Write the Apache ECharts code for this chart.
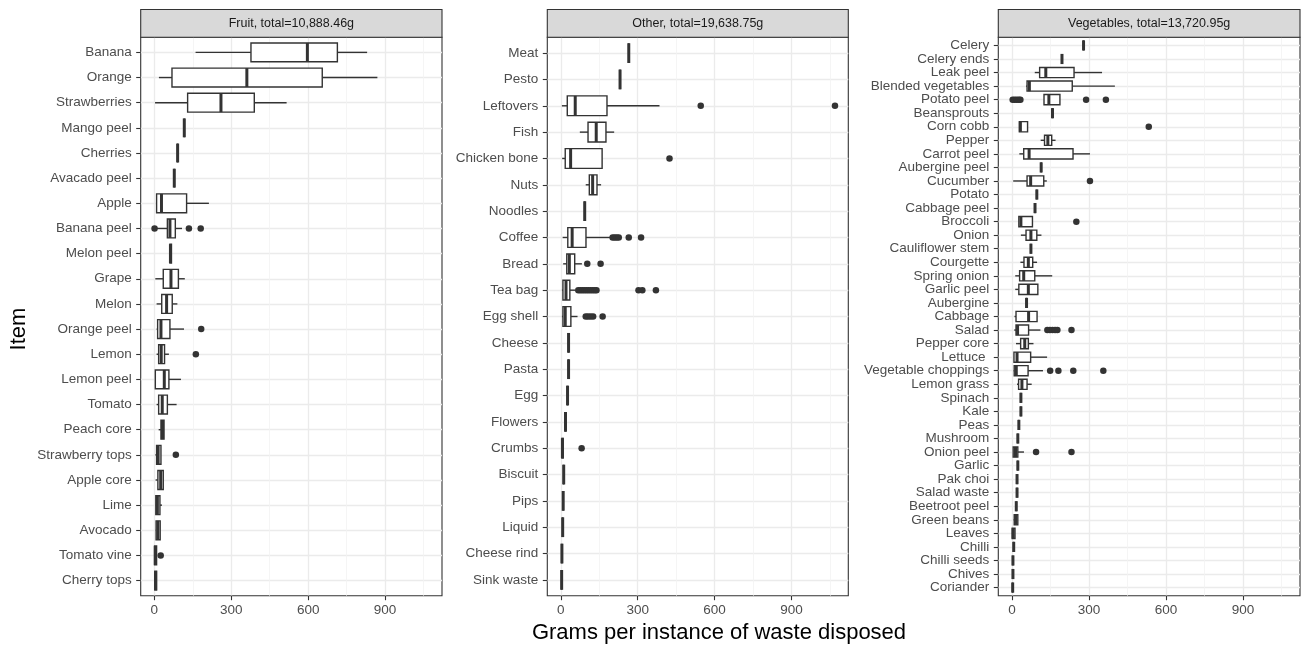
<!DOCTYPE html>
<html>
<head>
<meta charset="utf-8">
<script src="https://cdn.jsdelivr.net/npm/echarts@6/dist/echarts.min.js"></script>
<style>
  html, body { margin: 0; padding: 0; background: #ffffff; }
  #chart { width: 1302px; height: 648px; }
</style>
</head>
<body>
<div id="chart"></div>
<script>
// ---- data: grams per disposal, boxes are [low whisker, Q1, median, Q3, high whisker] ----
const panelTitles = ['Fruit, total=10,888.46g', 'Other, total=19,638.75g', 'Vegetables, total=13,720.95g'];

const fruitItems = ['Banana', 'Orange', 'Strawberries', 'Mango peel', 'Cherries', 'Avacado peel', 'Apple',
  'Banana peel', 'Melon peel', 'Grape', 'Melon', 'Orange peel', 'Lemon', 'Lemon peel', 'Tomato',
  'Peach core', 'Strawberry tops', 'Apple core', 'Lime', 'Avocado', 'Tomato vine', 'Cherry tops'];
const fruitBoxes = [
  [161, 377, 597, 714, 830], [18, 69, 361, 655, 870], [3, 130, 260, 390, 516],
  [117, 117, 117, 117, 117], [91, 91, 91, 91, 91], [78, 78, 78, 78, 78],
  [9, 9, 28, 126, 213], [8, 51, 61, 82, 108], [61, 61, 63, 67, 67],
  [4, 35, 65, 94, 119], [9, 29, 48, 70, 90], [9, 13, 26, 61, 116],
  [9, 17, 27, 40, 57], [4, 4, 39, 57, 104], [9, 17, 31, 51, 87],
  [17, 26, 32, 38, 38], [4, 9, 15, 26, 26], [5, 14, 25, 35, 35],
  [5, 6, 12, 22, 30], [6, 7, 14, 23, 23], [0, 1, 4, 9, 9], [1, 2, 5, 9, 9]
];
const fruitOutliers = [
  ['Banana peel', 1], ['Banana peel', 135], ['Banana peel', 181],
  ['Orange peel', 183], ['Lemon', 162], ['Strawberry tops', 84], ['Tomato vine', 25]
];

const otherItems = ['Meat', 'Pesto', 'Leftovers', 'Fish', 'Chicken bone', 'Nuts', 'Noodles', 'Coffee',
  'Bread', 'Tea bag', 'Egg shell', 'Cheese', 'Pasta', 'Egg', 'Flowers', 'Crumbs', 'Biscuit', 'Pips',
  'Liquid', 'Cheese rind', 'Sink waste'];
const otherBoxes = [
  [265, 265, 265, 265, 265], [231, 231, 231, 231, 231], [4, 25, 56, 180, 385],
  [74, 106, 138, 176, 208], [5, 17, 38, 161, 161], [97, 111, 124, 141, 157],
  [93, 93, 93, 93, 93], [7, 27, 44, 98, 196], [9, 23, 33, 54, 82],
  [4, 8, 20, 35, 56], [4, 8, 17, 39, 65], [30, 30, 30, 30, 30],
  [30, 30, 30, 30, 30], [26, 26, 26, 26, 26], [18, 18, 18, 18, 18],
  [3, 4, 6, 9, 9], [11, 11, 11, 11, 11], [9, 9, 9, 9, 9],
  [7, 7, 7, 7, 7], [4, 4, 4, 4, 4], [3, 3, 3, 3, 3]
];
const otherOutliers = [
  ['Leftovers', 546], ['Leftovers', 1070], ['Chicken bone', 424],
  ['Coffee', 202], ['Coffee', 210], ['Coffee', 218], ['Coffee', 226], ['Coffee', 265], ['Coffee', 313],
  ['Bread', 103], ['Bread', 155],
  ['Tea bag', 68], ['Tea bag', 76], ['Tea bag', 84], ['Tea bag', 92], ['Tea bag', 100], ['Tea bag', 108],
  ['Tea bag', 116], ['Tea bag', 124], ['Tea bag', 132], ['Tea bag', 139], ['Tea bag', 303], ['Tea bag', 318],
  ['Tea bag', 371],
  ['Egg shell', 97], ['Egg shell', 106], ['Egg shell', 116], ['Egg shell', 126], ['Egg shell', 163],
  ['Crumbs', 81]
];

const vegItems = ['Celery', 'Celery ends', 'Leak peel', 'Blended vegetables', 'Potato peel', 'Beansprouts',
  'Corn cobb', 'Pepper', 'Carrot peel', 'Aubergine peel', 'Cucumber', 'Potato', 'Cabbage peel', 'Broccoli',
  'Onion', 'Cauliflower stem', 'Courgette', 'Spring onion', 'Garlic peel', 'Aubergine', 'Cabbage', 'Salad',
  'Pepper core', 'Lettuce ', 'Vegetable choppings', 'Lemon grass', 'Spinach', 'Kale', 'Peas', 'Mushroom',
  'Onion peel', 'Garlic', 'Pak choi', 'Salad waste', 'Beetroot peel', 'Green beans', 'Leaves', 'Chilli',
  'Chilli seeds', 'Chives', 'Coriander'];
const vegBoxes = [
  [279, 279, 279, 279, 279], [195, 195, 195, 195, 195], [89, 108, 132, 242, 351],
  [55, 59, 68, 235, 401], [125, 125, 144, 187, 187], [158, 158, 158, 158, 158],
  [29, 29, 33, 61, 61], [112, 127, 140, 155, 170], [29, 46, 67, 238, 304],
  [114, 114, 114, 114, 114], [5, 59, 73, 124, 136], [97, 97, 97, 97, 97],
  [90, 90, 90, 90, 90], [27, 27, 35, 80, 80], [35, 55, 74, 97, 115],
  [74, 74, 74, 74, 74], [33, 47, 64, 81, 98], [13, 30, 46, 89, 157],
  [13, 27, 64, 101, 101], [57, 57, 57, 57, 57], [10, 16, 65, 98, 98],
  [9, 16, 22, 65, 111], [16, 34, 50, 64, 84], [8, 8, 20, 73, 137],
  [7, 9, 17, 63, 121], [20, 26, 39, 59, 77], [35, 35, 35, 35, 35],
  [35, 35, 35, 35, 35], [27, 27, 27, 27, 27], [23, 23, 23, 23, 23],
  [5, 5, 14, 23, 47], [23, 23, 23, 23, 23], [20, 20, 20, 20, 20],
  [20, 20, 20, 20, 20], [17, 17, 17, 17, 17], [7, 9, 15, 23, 23],
  [0, 1, 5, 12, 12], [7, 7, 7, 7, 7], [4, 4, 4, 4, 4], [4, 4, 4, 4, 4], [3, 3, 3, 3, 3]
];
const vegOutliers = [
  ['Potato peel', 3], ['Potato peel', 11], ['Potato peel', 19], ['Potato peel', 27], ['Potato peel', 33],
  ['Potato peel', 289], ['Potato peel', 366], ['Corn cobb', 533], ['Cucumber', 304], ['Broccoli', 251],
  ['Salad', 138], ['Salad', 148], ['Salad', 158], ['Salad', 168], ['Salad', 177], ['Salad', 232],
  ['Vegetable choppings', 149], ['Vegetable choppings', 181], ['Vegetable choppings', 239],
  ['Vegetable choppings', 356], ['Onion peel', 94], ['Onion peel', 232]
];

const xMajorTicks = [0, 300, 600, 900];
const xMinorTicks = [150, 450, 750, 1050];

// ---- layout ----
const FONT = '"Liberation Sans", Arial, Helvetica, sans-serif';
const X_MIN = -53, X_MAX = 1122;
const TOP = 37.3, BOTTOM = 595.7;
const STRIP_TOP = 9.5;
const INK = '#333333';

const panels = [
  { left: 140.7, right: 442.0, items: fruitItems, boxes: fruitBoxes, outliers: fruitOutliers, title: panelTitles[0] },
  { left: 547.3, right: 848.3, items: otherItems, boxes: otherBoxes, outliers: otherOutliers, title: panelTitles[1] },
  { left: 998.3, right: 1300.0, items: vegItems, boxes: vegBoxes, outliers: vegOutliers, title: panelTitles[2] }
];

function renderBox(params, api) {
  const idx = api.value(0);
  const lo = api.coord([api.value(1), idx]);
  const q1 = api.coord([api.value(2), idx]);
  const md = api.coord([api.value(3), idx]);
  const q3 = api.coord([api.value(4), idx]);
  const hi = api.coord([api.value(5), idx]);
  const band = Math.abs(api.coord([0, 1])[1] - api.coord([0, 0])[1]);
  const h = band * 0.375;
  const y = md[1];
  const lineStyle = { stroke: INK, lineWidth: 1.4 };
  return {
    type: 'group',
    children: [
      { type: 'line', shape: { x1: lo[0], y1: y, x2: q1[0], y2: y }, style: lineStyle },
      { type: 'line', shape: { x1: q3[0], y1: y, x2: hi[0], y2: y }, style: lineStyle },
      { type: 'rect', shape: { x: q1[0], y: y - h, width: q3[0] - q1[0], height: 2 * h },
        style: { fill: '#ffffff', stroke: INK, lineWidth: 1.4 } },
      { type: 'line', shape: { x1: md[0], y1: y - h, x2: md[0], y2: y + h },
        style: { stroke: INK, lineWidth: 3 } }
    ]
  };
}

const grid = [], xAxis = [], yAxis = [], series = [], graphic = [];
const H = BOTTOM - TOP;

panels.forEach((p, i) => {
  const width = p.right - p.left;
  const n = p.items.length;
  const band = H / (n + 0.2);
  // frame grid (border, x axis, vertical grid lines)
  grid.push({ left: p.left, top: TOP, width: width, height: H, show: true,
    backgroundColor: '#ffffff', borderColor: INK, borderWidth: 1.1, outerBoundsMode: 'none' });
  // inner grid holding the category rows
  grid.push({ left: p.left, top: TOP + 0.6 * band, width: width, height: (n - 1) * band,
    show: false, outerBoundsMode: 'none' });

  xAxis.push({
    gridIndex: 2 * i, type: 'value', min: X_MIN, max: X_MAX, position: 'bottom',
    axisLine: { show: false, onZero: false },
    axisTick: { show: true, length: 4.5, lineStyle: { color: INK, width: 1.1 }, customValues: xMajorTicks },
    axisLabel: { customValues: xMajorTicks, color: '#4D4D4D', fontSize: 13.5, fontFamily: FONT, margin: 8 },
    splitLine: { show: true, lineStyle: { color: '#EBEBEB', width: 1.3 } }
  });
  xAxis.push({
    gridIndex: 2 * i, type: 'value', min: X_MIN, max: X_MAX, position: 'top',
    axisLine: { show: false, onZero: false },
    axisTick: { show: false, customValues: xMinorTicks },
    axisLabel: { show: false, customValues: xMinorTicks },
    splitLine: { show: true, lineStyle: { color: '#F2F2F2', width: 0.8 } }
  });
  xAxis.push({ gridIndex: 2 * i + 1, type: 'value', min: X_MIN, max: X_MAX, show: false,
    axisLine: { onZero: false } });

  yAxis.push({ gridIndex: 2 * i, type: 'value', show: false, axisLine: { onZero: false } });
  yAxis.push({
    gridIndex: 2 * i + 1, type: 'category', data: p.items, inverse: true, boundaryGap: false,
    position: 'left',
    axisLine: { show: false, onZero: false },
    axisTick: { show: true, length: 4.5, interval: 0, lineStyle: { color: INK, width: 1.1 } },
    axisLabel: { interval: 0, color: '#4D4D4D', fontSize: 13.5, fontFamily: FONT, margin: 9 },
    splitLine: { show: true, interval: 0, lineStyle: { color: '#EBEBEB', width: 1.3 } }
  });

  series.push({
    type: 'custom', xAxisIndex: 3 * i + 2, yAxisIndex: 2 * i + 1,
    data: p.boxes.map((b, k) => [k].concat(b)),
    encode: { x: [1, 2, 3, 4, 5], y: 0 },
    renderItem: renderBox, silent: true, z: 3
  });
  series.push({
    type: 'scatter', xAxisIndex: 3 * i + 2, yAxisIndex: 2 * i + 1,
    data: p.outliers.map(o => [o[1], o[0]]),
    symbol: 'circle', symbolSize: 6.5, itemStyle: { color: INK, opacity: 1 },
    silent: true, z: 4
  });

  // facet strip
  graphic.push({ type: 'rect', shape: { x: p.left, y: STRIP_TOP, width: width, height: TOP - STRIP_TOP },
    style: { fill: '#D9D9D9', stroke: INK, lineWidth: 1.1 }, z: 10 });
  graphic.push({ type: 'text', x: p.left + width / 2, y: (STRIP_TOP + TOP) / 2 + 0.5,
    style: { text: p.title, textAlign: 'center', textVerticalAlign: 'middle', fontSize: 12.5,
      fontFamily: FONT, fill: '#1A1A1A' }, z: 11 });
});

// axis titles
graphic.push({ type: 'text', x: 719, y: 633,
  style: { text: 'Grams per instance of waste disposed', textAlign: 'center', textVerticalAlign: 'middle',
    fontSize: 22, fontFamily: FONT, fill: '#000000' } });
graphic.push({ type: 'text', x: 19, y: 329, rotation: Math.PI / 2,
  style: { text: 'Item', textAlign: 'center', textVerticalAlign: 'middle',
    fontSize: 22, fontFamily: FONT, fill: '#000000' } });

const chart = echarts.init(document.getElementById('chart'), null, { renderer: 'canvas' });
chart.setOption({
  animation: false,
  backgroundColor: '#ffffff',
  grid: grid, xAxis: xAxis, yAxis: yAxis, series: series, graphic: graphic
});
</script>
</body>
</html>
